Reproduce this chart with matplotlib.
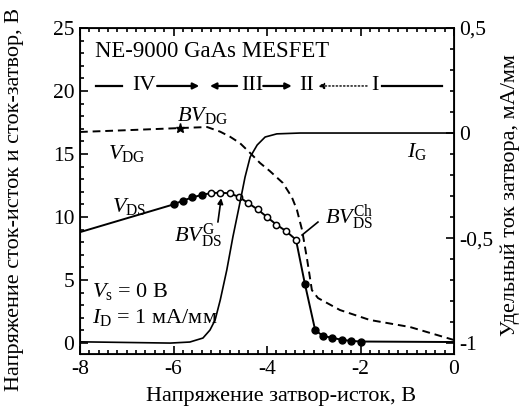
import matplotlib
matplotlib.use('Agg')
import matplotlib.pyplot as plt
from matplotlib.ticker import MultipleLocator, FuncFormatter

plt.rcParams['font.family'] = ['Liberation Serif', 'DejaVu Serif']
plt.rcParams['mathtext.fontset'] = 'custom'
plt.rcParams['mathtext.rm'] = 'Liberation Serif'
plt.rcParams['mathtext.it'] = 'Liberation Serif:italic'
plt.rcParams['axes.unicode_minus'] = False

# V_DG (штриховая), В
vdg_x = [-8.0, -6.93, -5.86, -5.28, -5.0, -4.79, -4.58, -4.36, -4.15, -3.94, -3.66,
         -3.47, -3.36, -3.25, -3.14, -3.04, -2.91, -2.44, -1.8, -0.94, 0.0]
vdg_y = [16.75, 16.9, 17.06, 17.14, 16.77, 16.37, 15.87, 15.08, 14.29, 13.65, 12.7,
         11.59, 10.57, 8.97, 6.59, 4.2, 3.57, 2.62, 1.83, 1.27, 0.24]

# V_DS (сплошная), В
vds_x = [-8.0, -6.0, -5.8, -5.6, -5.4, -5.2, -5.0, -4.8, -4.6, -4.4, -4.2, -4.0, -3.8,
         -3.6, -3.38, -3.19, -2.97, -2.8, -2.6, -2.4, -2.2, -2.0, 0.0]
vds_y = [8.8, 11.0, 11.3, 11.55, 11.75, 11.9, 11.93, 11.88, 11.6, 11.1, 10.6, 10.0, 9.4,
         8.9, 8.2, 4.7, 1.03, 0.55, 0.42, 0.25, 0.17, 0.12, 0.08]

# точки на V_DS
filled1_x = [-6.0, -5.8, -5.6, -5.4]
filled1_y = [11.0, 11.3, 11.55, 11.75]
open_x = [-5.2, -5.0, -4.8, -4.6, -4.4, -4.2, -4.0, -3.8, -3.6, -3.38]
open_y = [11.9, 11.93, 11.88, 11.6, 11.1, 10.6, 10.0, 9.4, 8.9, 8.2]
filled2_x = [-3.19, -2.97, -2.8, -2.6, -2.4, -2.2, -2.0]
filled2_y = [4.7, 1.03, 0.55, 0.42, 0.25, 0.17, 0.12]

# I_G, мА/мм (правая ось)
ig_x = [-8.0, -6.07, -5.65, -5.37, -5.22, -5.11, -5.0, -4.86, -4.73, -4.58, -4.47,
        -4.36, -4.21, -4.04, -3.79, -3.29, 0.0]
ig_y = [-0.994, -1.0, -0.995, -0.976, -0.938, -0.890, -0.795, -0.652, -0.495, -0.333,
        -0.210, -0.114, -0.057, -0.019, -0.004, 0.0, 0.0]

bvdg_x, bvdg_y = -5.86, 17.06

fig = plt.figure(figsize=(5.25, 4.12), dpi=100)
ax = fig.add_axes([80/525, 58/412, 374/525, 326/412])
ax2 = ax.twinx()

ax.plot(vdg_x, vdg_y, 'k--', lw=1.4, dashes=(4, 2.5))
ax.plot(vds_x, vds_y, 'k-', lw=1.4)
ax.plot(filled1_x, filled1_y, 'ko', ms=5)
ax.plot(open_x, open_y, 'o', mfc='white', mec='k', mew=1.1, ms=4.5)
ax.plot(filled2_x, filled2_y, 'ko', ms=5)
ax.plot([bvdg_x], [bvdg_y], 'k*', ms=6.5)
ax2.plot(ig_x, ig_y, 'k-', lw=1.2)

ax.set_xlim(-8, 0)
ax.set_ylim(-0.87, 25)
ax2.set_ylim(-1.052, 0.5)

ax.xaxis.set_major_locator(MultipleLocator(2))
ax.xaxis.set_minor_locator(MultipleLocator(0.2))
ax.yaxis.set_major_locator(MultipleLocator(5))
ax.yaxis.set_minor_locator(MultipleLocator(1))
ax2.yaxis.set_major_locator(MultipleLocator(0.5))
ax2.yaxis.set_minor_locator(MultipleLocator(0.1))
ax2.yaxis.set_major_formatter(FuncFormatter(lambda v, p: ('%g' % v).replace('.', ',')))

tl = 15.5
ax.tick_params(which='both', direction='in', top=True, right=False, labelsize=tl, width=1.2)
ax.tick_params(which='major', length=6, pad=4)
ax.tick_params(which='minor', length=3.2)
ax2.tick_params(which='both', direction='in', labelsize=tl, width=1.2)
ax2.tick_params(which='major', length=6, pad=4)
ax2.tick_params(which='minor', length=3.2)
for s in ax.spines.values():
    s.set_linewidth(1.3)

fs = 16
ax.text(-7.68, 23.1, 'NE-9000 GaAs MESFET', fontsize=16.4, va='center')

# области IV, III, II, I
row = 20.4
ax.plot([-7.66, -7.1], [row, row], 'k-', lw=1.6)
ax.text(-6.63, row, 'IV', fontsize=fs, ha='center', va='center')
arr = dict(arrowstyle='-|>', color='k', lw=1.6, mutation_scale=9, shrinkA=0, shrinkB=0)
ax.annotate('', xy=(-5.45, row), xytext=(-6.35, row), arrowprops=arr)
ax.annotate('', xy=(-5.22, row), xytext=(-4.64, row), arrowprops=arr)
ax.text(-4.32, row, 'III', fontsize=fs, ha='center', va='center')
ax.annotate('', xy=(-3.47, row), xytext=(-4.08, row), arrowprops=arr)
ax.text(-3.15, row, 'II', fontsize=fs, ha='center', va='center')
ax.annotate('', xy=(-2.91, row), xytext=(-1.86, row),
            arrowprops=dict(arrowstyle='-|>', color='k', lw=1.0, ls=':', mutation_scale=9,
                            shrinkA=0, shrinkB=0))
ax.text(-1.69, row, 'I', fontsize=fs, ha='center', va='center')
ax.plot([-1.54, -0.26], [row, row], 'k-', lw=1.6)

ax.text(-5.93, 17.6, r'$BV_{\mathrm{DG}}$', fontsize=fs, va='baseline')
ax.text(-7.4, 14.6, r'$V_{\mathrm{DG}}$', fontsize=fs, va='baseline')
ax.text(-7.32, 10.4, r'$V_{\mathrm{DS}}$', fontsize=fs, va='baseline')
ax.text(-6.0, 8.0, r'$BV_{\mathrm{DS}}^{\mathrm{G}}$', fontsize=fs, va='baseline')
ax.annotate('', xy=(-4.98, 11.5), xytext=(-5.05, 9.6),
            arrowprops=dict(arrowstyle='-|>', color='k', lw=1.2, mutation_scale=8,
                            shrinkA=0, shrinkB=0))
ax.text(-2.76, 9.5, r'$BV_{\mathrm{DS}}^{\mathrm{Ch}}$', fontsize=fs, va='baseline')
ax.plot([-2.91, -3.25], [9.6, 8.57], 'k-', lw=1.2)
ax.text(-1.0, 14.8, r'$I_{\mathrm{G}}$', fontsize=fs, va='baseline')
ax.text(-7.75, 3.65, r'$V_{\mathrm{s}}$ = 0 В', fontsize=fs, va='baseline')
ax.text(-7.75, 1.6, r'$I_{\mathrm{D}}$ = 1 мА/мм', fontsize=fs, va='baseline')

fig.text(281/525, 1 - 397/412, 'Напряжение затвор-исток, В', fontsize=fs, ha='center', va='center')
fig.text(15/525, 1 - 199/412, 'Напряжение сток-исток и сток-затвор, В', fontsize=fs,
         rotation=90, ha='center', va='center')
fig.text(510/525, 1 - 195/412, 'Удельный ток затвора, мА/мм', fontsize=fs,
         rotation=90, ha='center', va='center')

fig.savefig('out.png', dpi=100)
